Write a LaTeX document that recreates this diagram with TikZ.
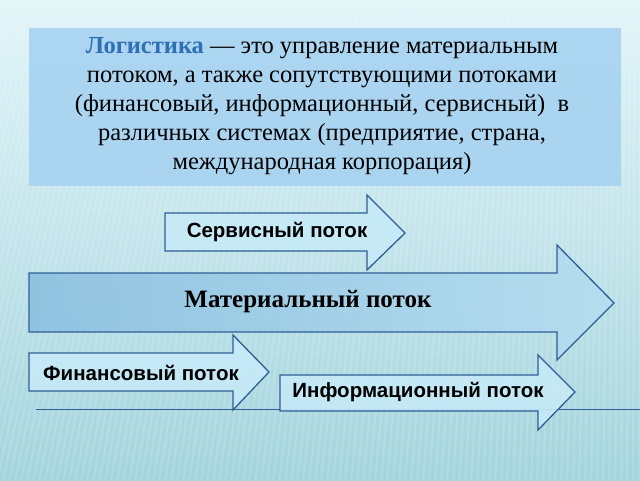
\documentclass[tikz,border=0pt]{standalone}
\usepackage{fontspec}
\setmainfont{Liberation Serif}
\setsansfont{Liberation Sans}
\usetikzlibrary{calc}
\definecolor{bgtop}{HTML}{E2F5F9}
\definecolor{bgbot}{HTML}{A3D4DC}
\definecolor{boxfill}{HTML}{A6D2F0}
\definecolor{arrfill}{HTML}{C6EAF7}
\definecolor{arrline}{HTML}{2F5F96}
\definecolor{matdark}{HTML}{8CC0E0}
\definecolor{matlight}{HTML}{B5DDF0}
\definecolor{logblue}{HTML}{2E6FB5}
\tikzset{
  flowarrow/.style={draw=arrline, line width=1.3pt, fill=arrfill, fill opacity=0.9, line join=miter},
  mainarrow/.style={draw=arrline, line width=1.3pt, left color=matdark, right color=matlight, fill opacity=0.9, line join=miter},
  sanslabel/.style={font=\sffamily\bfseries\fontsize{20.5}{24}\selectfont, text=black},
}
\begin{document}
\begin{tikzpicture}[x=1pt,y=-1pt]
\useasboundingbox (0,0) rectangle (640,480);
% background
\shade[top color=bgtop, bottom color=bgbot] (0,0) rectangle (640,480);
\begin{scope}
\clip (0,0) rectangle (640,480);
\foreach \i in {-160,-154,...,640} {
  \pgfmathsetmacro{\sh}{130*(1-(\i+160)/800)}
  \fill[white, opacity=0.13] (\i,480) -- (\i+2.5,480) -- (\i+2.5+\sh,0) -- (\i+\sh,0) -- cycle;
}
\end{scope}
% top box
\fill[boxfill, opacity=0.9] (29,28) rectangle (621,186);
\node[align=center, font=\fontsize{24.5}{29}\selectfont] (def) at (322,106)
 {{\bfseries\color{logblue}Логистика} — это управление материальным\\
  потоком, а также сопутствующими потоками\\
  (финансовый, информационный, сервисный)\ \ в\\
  различных системах (предприятие, страна,\\
  международная корпорация)};
% line
\coordinate (ls) at (36,409);
\coordinate (le) at (640,409);
\draw[arrline, line width=0.8pt] (ls) -- (le);
% material arrow
\draw[mainarrow] (29,273) -- (557,273) -- (557,245) -- (614,303) -- (557,360) -- (557,332) -- (29,332) -- cycle;
\node[font=\bfseries\fontsize{25}{29}\selectfont] (mat) at (308,302) {Материальный поток};
% service arrow
\draw[flowarrow] (165,213) -- (367,213) -- (367,195) -- (405,233) -- (367,270) -- (367,251) -- (165,251) -- cycle;
\node[sanslabel] (serv) at (277,232) {Сервисный поток};
% financial arrow
\draw[flowarrow] (29,353) -- (233,353) -- (233,335) -- (269,372) -- (233,410) -- (233,391) -- (29,391) -- cycle;
\node[sanslabel] (fin) at (141,373) {Финансовый поток};
% info arrow
\draw[flowarrow] (280,375) -- (538,375) -- (538,355) -- (575,392) -- (538,430) -- (538,411) -- (280,411) -- cycle;
\node[sanslabel] (info) at (418,392) {Информационный поток};
\end{tikzpicture}
\end{document}
